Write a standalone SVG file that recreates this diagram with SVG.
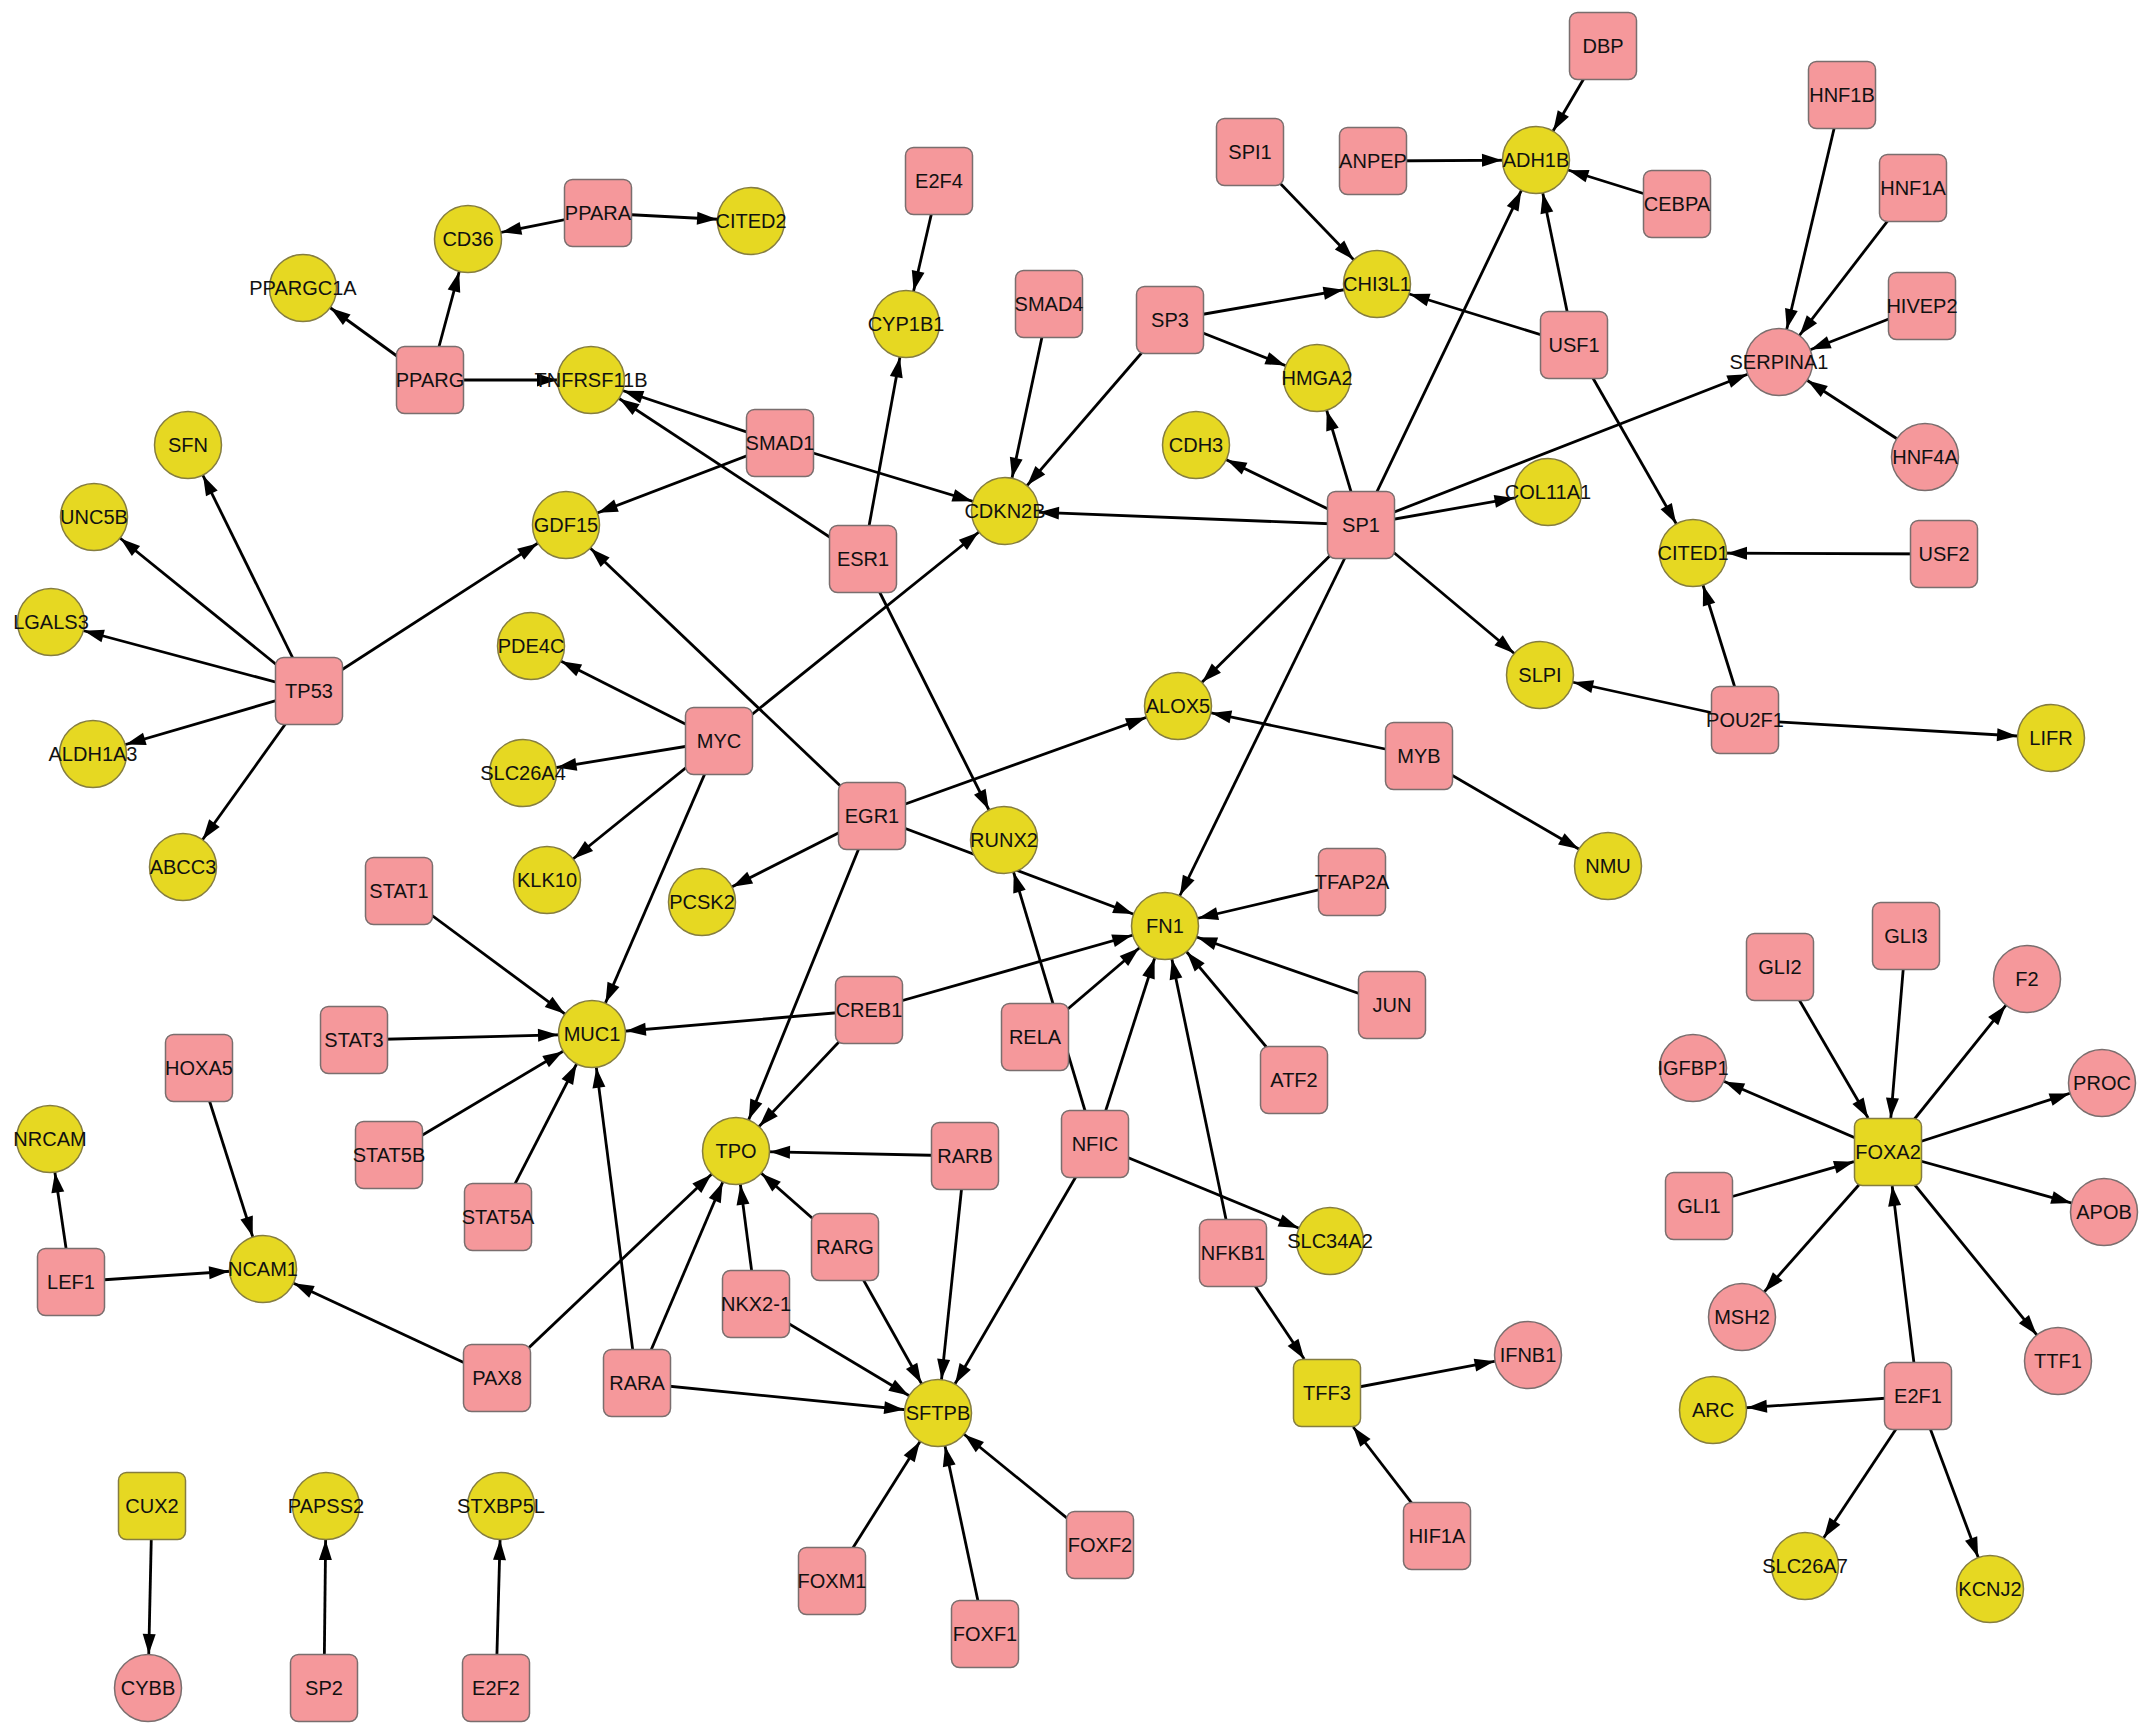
<svg xmlns="http://www.w3.org/2000/svg" width="2150" height="1736" viewBox="0 0 2150 1736">
<style>
.e{stroke:#000;stroke-width:2.8;fill:none;marker-end:url(#ac)}
.q{stroke:#000;stroke-width:2.8;fill:none;marker-end:url(#aq)}
.p{fill:#F5989B;stroke:#7a6e6e;stroke-width:1.5}
.y{fill:#E6D822;stroke:#857d40;stroke-width:1.5}
text{font-family:"Liberation Sans",Arial,sans-serif;font-size:20px;fill:#111;text-anchor:middle}
</style>
<defs>
<marker id="ac" viewBox="0 0 20 13" markerWidth="20" markerHeight="13" refX="54" refY="6.5" orient="auto" markerUnits="userSpaceOnUse" overflow="visible"><path d="M0,0 L20,6.5 L0,13 z" fill="#000"/></marker>
<marker id="aq" viewBox="0 0 20 13" markerWidth="20" markerHeight="13" refX="20" refY="6.5" orient="auto" markerUnits="userSpaceOnUse" overflow="visible"><path d="M0,0 L20,6.5 L0,13 z" fill="#000"/></marker>
</defs>
<rect width="2150" height="1736" fill="#fff"/>
<g id="edges">
<line class="e" x1="1603" y1="46" x2="1536" y2="160"/>
<line class="e" x1="1373" y1="161" x2="1536" y2="160"/>
<line class="e" x1="1677" y1="204" x2="1536" y2="160"/>
<line class="e" x1="1574" y1="345" x2="1536" y2="160"/>
<line class="e" x1="1361" y1="525" x2="1536" y2="160"/>
<line class="e" x1="1250" y1="152" x2="1377" y2="284"/>
<line class="e" x1="1170" y1="320" x2="1377" y2="284"/>
<line class="e" x1="1574" y1="345" x2="1377" y2="284"/>
<line class="e" x1="1170" y1="320" x2="1317" y2="378"/>
<line class="e" x1="1170" y1="320" x2="1005" y2="511"/>
<line class="e" x1="1574" y1="345" x2="1693" y2="553"/>
<line class="e" x1="1842" y1="95" x2="1779" y2="362"/>
<line class="e" x1="1913" y1="188" x2="1779" y2="362"/>
<line class="e" x1="1922" y1="306" x2="1779" y2="362"/>
<line class="e" x1="1925" y1="457" x2="1779" y2="362"/>
<line class="e" x1="1361" y1="525" x2="1779" y2="362"/>
<line class="e" x1="1944" y1="554" x2="1693" y2="553"/>
<line class="e" x1="1745" y1="720" x2="1693" y2="553"/>
<line class="e" x1="1745" y1="720" x2="1540" y2="675"/>
<line class="e" x1="1745" y1="720" x2="2051" y2="738"/>
<line class="e" x1="1361" y1="525" x2="1317" y2="378"/>
<line class="e" x1="1361" y1="525" x2="1196" y2="445"/>
<line class="e" x1="1361" y1="525" x2="1548" y2="492"/>
<line class="e" x1="1361" y1="525" x2="1005" y2="511"/>
<line class="e" x1="1361" y1="525" x2="1540" y2="675"/>
<line class="e" x1="1361" y1="525" x2="1178" y2="706"/>
<line class="e" x1="1361" y1="525" x2="1165" y2="926"/>
<line class="e" x1="1419" y1="756" x2="1178" y2="706"/>
<line class="e" x1="1419" y1="756" x2="1608" y2="866"/>
<line class="e" x1="939" y1="181" x2="906" y2="324"/>
<line class="e" x1="863" y1="559" x2="906" y2="324"/>
<line class="e" x1="1049" y1="304" x2="1005" y2="511"/>
<line class="e" x1="780" y1="443" x2="1005" y2="511"/>
<line class="e" x1="780" y1="443" x2="566" y2="525"/>
<line class="e" x1="780" y1="443" x2="591" y2="380"/>
<line class="e" x1="863" y1="559" x2="591" y2="380"/>
<line class="e" x1="863" y1="559" x2="1004" y2="840"/>
<line class="e" x1="598" y1="213" x2="468" y2="239"/>
<line class="e" x1="598" y1="213" x2="751" y2="221"/>
<line class="e" x1="430" y1="380" x2="468" y2="239"/>
<line class="e" x1="430" y1="380" x2="303" y2="288"/>
<line class="e" x1="430" y1="380" x2="591" y2="380"/>
<line class="e" x1="309" y1="691" x2="188" y2="445"/>
<line class="e" x1="309" y1="691" x2="94" y2="517"/>
<line class="e" x1="309" y1="691" x2="51" y2="622"/>
<line class="e" x1="309" y1="691" x2="93" y2="754"/>
<line class="e" x1="309" y1="691" x2="183" y2="867"/>
<line class="e" x1="309" y1="691" x2="566" y2="525"/>
<line class="e" x1="872" y1="816" x2="566" y2="525"/>
<line class="e" x1="719" y1="741" x2="531" y2="646"/>
<line class="e" x1="719" y1="741" x2="523" y2="773"/>
<line class="e" x1="719" y1="741" x2="547" y2="880"/>
<line class="e" x1="719" y1="741" x2="592" y2="1034"/>
<line class="e" x1="719" y1="741" x2="1005" y2="511"/>
<line class="e" x1="872" y1="816" x2="1178" y2="706"/>
<line class="e" x1="872" y1="816" x2="1165" y2="926"/>
<line class="e" x1="872" y1="816" x2="702" y2="902"/>
<line class="e" x1="872" y1="816" x2="736" y2="1151"/>
<line class="e" x1="1095" y1="1144" x2="1004" y2="840"/>
<line class="e" x1="1035" y1="1037" x2="1165" y2="926"/>
<line class="e" x1="869" y1="1010" x2="1165" y2="926"/>
<line class="e" x1="869" y1="1010" x2="592" y2="1034"/>
<line class="e" x1="869" y1="1010" x2="736" y2="1151"/>
<line class="e" x1="1352" y1="882" x2="1165" y2="926"/>
<line class="e" x1="1392" y1="1005" x2="1165" y2="926"/>
<line class="e" x1="1294" y1="1080" x2="1165" y2="926"/>
<line class="e" x1="1095" y1="1144" x2="1165" y2="926"/>
<line class="e" x1="1233" y1="1253" x2="1165" y2="926"/>
<line class="e" x1="1095" y1="1144" x2="1330" y2="1241"/>
<line class="e" x1="1095" y1="1144" x2="938" y2="1413"/>
<line class="e" x1="399" y1="891" x2="592" y2="1034"/>
<line class="e" x1="354" y1="1040" x2="592" y2="1034"/>
<line class="e" x1="389" y1="1155" x2="592" y2="1034"/>
<line class="e" x1="498" y1="1217" x2="592" y2="1034"/>
<line class="e" x1="637" y1="1383" x2="592" y2="1034"/>
<line class="e" x1="637" y1="1383" x2="736" y2="1151"/>
<line class="e" x1="637" y1="1383" x2="938" y2="1413"/>
<line class="e" x1="965" y1="1156" x2="736" y2="1151"/>
<line class="e" x1="965" y1="1156" x2="938" y2="1413"/>
<line class="e" x1="845" y1="1247" x2="736" y2="1151"/>
<line class="e" x1="845" y1="1247" x2="938" y2="1413"/>
<line class="e" x1="756" y1="1304" x2="736" y2="1151"/>
<line class="e" x1="756" y1="1304" x2="938" y2="1413"/>
<line class="e" x1="497" y1="1378" x2="736" y2="1151"/>
<line class="e" x1="497" y1="1378" x2="263" y2="1269"/>
<line class="e" x1="71" y1="1282" x2="263" y2="1269"/>
<line class="e" x1="71" y1="1282" x2="50" y2="1139"/>
<line class="e" x1="199" y1="1068" x2="263" y2="1269"/>
<line class="q" x1="1233" y1="1253" x2="1304.2" y2="1359"/>
<line class="e" x1="1327" y1="1393" x2="1528" y2="1355"/>
<line class="q" x1="1437" y1="1536" x2="1353.2" y2="1427"/>
<line class="e" x1="832" y1="1581" x2="938" y2="1413"/>
<line class="e" x1="985" y1="1634" x2="938" y2="1413"/>
<line class="e" x1="1100" y1="1545" x2="938" y2="1413"/>
<line class="e" x1="152" y1="1506" x2="148" y2="1688"/>
<line class="e" x1="324" y1="1688" x2="326" y2="1506"/>
<line class="e" x1="496" y1="1688" x2="501" y2="1506"/>
<line class="q" x1="1780" y1="967" x2="1868.1" y2="1118"/>
<line class="q" x1="1906" y1="936" x2="1890.8" y2="1118"/>
<line class="q" x1="1699" y1="1206" x2="1854" y2="1161.7"/>
<line class="q" x1="1918" y1="1396" x2="1892.2" y2="1186"/>
<line class="e" x1="1888" y1="1152" x2="2027" y2="979"/>
<line class="e" x1="1888" y1="1152" x2="2102" y2="1083"/>
<line class="e" x1="1888" y1="1152" x2="2104" y2="1212"/>
<line class="e" x1="1888" y1="1152" x2="2058" y2="1361"/>
<line class="e" x1="1888" y1="1152" x2="1742" y2="1317"/>
<line class="e" x1="1888" y1="1152" x2="1693" y2="1068"/>
<line class="e" x1="1918" y1="1396" x2="1713" y2="1410"/>
<line class="e" x1="1918" y1="1396" x2="1805" y2="1566"/>
<line class="e" x1="1918" y1="1396" x2="1990" y2="1589"/>
</g>
<g id="nodes">
<g id="n-DBP"><rect class="p" x="1569.5" y="12.5" width="67" height="67" rx="8"/><text x="1603" y="53">DBP</text></g>
<g id="n-ANPEP"><rect class="p" x="1339.5" y="127.5" width="67" height="67" rx="8"/><text x="1373" y="168">ANPEP</text></g>
<g id="n-CEBPA"><rect class="p" x="1643.5" y="170.5" width="67" height="67" rx="8"/><text x="1677" y="211">CEBPA</text></g>
<g id="n-SPI1"><rect class="p" x="1216.5" y="118.5" width="67" height="67" rx="8"/><text x="1250" y="159">SPI1</text></g>
<g id="n-SP3"><rect class="p" x="1136.5" y="286.5" width="67" height="67" rx="8"/><text x="1170" y="327">SP3</text></g>
<g id="n-USF1"><rect class="p" x="1540.5" y="311.5" width="67" height="67" rx="8"/><text x="1574" y="352">USF1</text></g>
<g id="n-HNF1B"><rect class="p" x="1808.5" y="61.5" width="67" height="67" rx="8"/><text x="1842" y="102">HNF1B</text></g>
<g id="n-HNF1A"><rect class="p" x="1879.5" y="154.5" width="67" height="67" rx="8"/><text x="1913" y="195">HNF1A</text></g>
<g id="n-HIVEP2"><rect class="p" x="1888.5" y="272.5" width="67" height="67" rx="8"/><text x="1922" y="313">HIVEP2</text></g>
<g id="n-USF2"><rect class="p" x="1910.5" y="520.5" width="67" height="67" rx="8"/><text x="1944" y="561">USF2</text></g>
<g id="n-SP1"><rect class="p" x="1327.5" y="491.5" width="67" height="67" rx="8"/><text x="1361" y="532">SP1</text></g>
<g id="n-POU2F1"><rect class="p" x="1711.5" y="686.5" width="67" height="67" rx="8"/><text x="1745" y="727">POU2F1</text></g>
<g id="n-MYB"><rect class="p" x="1385.5" y="722.5" width="67" height="67" rx="8"/><text x="1419" y="763">MYB</text></g>
<g id="n-E2F4"><rect class="p" x="905.5" y="147.5" width="67" height="67" rx="8"/><text x="939" y="188">E2F4</text></g>
<g id="n-SMAD4"><rect class="p" x="1015.5" y="270.5" width="67" height="67" rx="8"/><text x="1049" y="311">SMAD4</text></g>
<g id="n-SMAD1"><rect class="p" x="746.5" y="409.5" width="67" height="67" rx="8"/><text x="780" y="450">SMAD1</text></g>
<g id="n-ESR1"><rect class="p" x="829.5" y="525.5" width="67" height="67" rx="8"/><text x="863" y="566">ESR1</text></g>
<g id="n-PPARA"><rect class="p" x="564.5" y="179.5" width="67" height="67" rx="8"/><text x="598" y="220">PPARA</text></g>
<g id="n-PPARG"><rect class="p" x="396.5" y="346.5" width="67" height="67" rx="8"/><text x="430" y="387">PPARG</text></g>
<g id="n-TP53"><rect class="p" x="275.5" y="657.5" width="67" height="67" rx="8"/><text x="309" y="698">TP53</text></g>
<g id="n-MYC"><rect class="p" x="685.5" y="707.5" width="67" height="67" rx="8"/><text x="719" y="748">MYC</text></g>
<g id="n-EGR1"><rect class="p" x="838.5" y="782.5" width="67" height="67" rx="8"/><text x="872" y="823">EGR1</text></g>
<g id="n-TFAP2A"><rect class="p" x="1318.5" y="848.5" width="67" height="67" rx="8"/><text x="1352" y="889">TFAP2A</text></g>
<g id="n-JUN"><rect class="p" x="1358.5" y="971.5" width="67" height="67" rx="8"/><text x="1392" y="1012">JUN</text></g>
<g id="n-ATF2"><rect class="p" x="1260.5" y="1046.5" width="67" height="67" rx="8"/><text x="1294" y="1087">ATF2</text></g>
<g id="n-STAT1"><rect class="p" x="365.5" y="857.5" width="67" height="67" rx="8"/><text x="399" y="898">STAT1</text></g>
<g id="n-STAT3"><rect class="p" x="320.5" y="1006.5" width="67" height="67" rx="8"/><text x="354" y="1047">STAT3</text></g>
<g id="n-CREB1"><rect class="p" x="835.5" y="976.5" width="67" height="67" rx="8"/><text x="869" y="1017">CREB1</text></g>
<g id="n-RELA"><rect class="p" x="1001.5" y="1003.5" width="67" height="67" rx="8"/><text x="1035" y="1044">RELA</text></g>
<g id="n-STAT5B"><rect class="p" x="355.5" y="1121.5" width="67" height="67" rx="8"/><text x="389" y="1162">STAT5B</text></g>
<g id="n-STAT5A"><rect class="p" x="464.5" y="1183.5" width="67" height="67" rx="8"/><text x="498" y="1224">STAT5A</text></g>
<g id="n-HOXA5"><rect class="p" x="165.5" y="1034.5" width="67" height="67" rx="8"/><text x="199" y="1075">HOXA5</text></g>
<g id="n-RARB"><rect class="p" x="931.5" y="1122.5" width="67" height="67" rx="8"/><text x="965" y="1163">RARB</text></g>
<g id="n-NFIC"><rect class="p" x="1061.5" y="1110.5" width="67" height="67" rx="8"/><text x="1095" y="1151">NFIC</text></g>
<g id="n-NFKB1"><rect class="p" x="1199.5" y="1219.5" width="67" height="67" rx="8"/><text x="1233" y="1260">NFKB1</text></g>
<g id="n-RARG"><rect class="p" x="811.5" y="1213.5" width="67" height="67" rx="8"/><text x="845" y="1254">RARG</text></g>
<g id="n-NKX2-1"><rect class="p" x="722.5" y="1270.5" width="67" height="67" rx="8"/><text x="756" y="1311">NKX2-1</text></g>
<g id="n-LEF1"><rect class="p" x="37.5" y="1248.5" width="67" height="67" rx="8"/><text x="71" y="1289">LEF1</text></g>
<g id="n-PAX8"><rect class="p" x="463.5" y="1344.5" width="67" height="67" rx="8"/><text x="497" y="1385">PAX8</text></g>
<g id="n-RARA"><rect class="p" x="603.5" y="1349.5" width="67" height="67" rx="8"/><text x="637" y="1390">RARA</text></g>
<g id="n-HIF1A"><rect class="p" x="1403.5" y="1502.5" width="67" height="67" rx="8"/><text x="1437" y="1543">HIF1A</text></g>
<g id="n-FOXM1"><rect class="p" x="798.5" y="1547.5" width="67" height="67" rx="8"/><text x="832" y="1588">FOXM1</text></g>
<g id="n-FOXF2"><rect class="p" x="1066.5" y="1511.5" width="67" height="67" rx="8"/><text x="1100" y="1552">FOXF2</text></g>
<g id="n-FOXF1"><rect class="p" x="951.5" y="1600.5" width="67" height="67" rx="8"/><text x="985" y="1641">FOXF1</text></g>
<g id="n-SP2"><rect class="p" x="290.5" y="1654.5" width="67" height="67" rx="8"/><text x="324" y="1695">SP2</text></g>
<g id="n-E2F2"><rect class="p" x="462.5" y="1654.5" width="67" height="67" rx="8"/><text x="496" y="1695">E2F2</text></g>
<g id="n-GLI2"><rect class="p" x="1746.5" y="933.5" width="67" height="67" rx="8"/><text x="1780" y="974">GLI2</text></g>
<g id="n-GLI3"><rect class="p" x="1872.5" y="902.5" width="67" height="67" rx="8"/><text x="1906" y="943">GLI3</text></g>
<g id="n-GLI1"><rect class="p" x="1665.5" y="1172.5" width="67" height="67" rx="8"/><text x="1699" y="1213">GLI1</text></g>
<g id="n-E2F1"><rect class="p" x="1884.5" y="1362.5" width="67" height="67" rx="8"/><text x="1918" y="1403">E2F1</text></g>
<g id="n-TFF3"><rect class="y" x="1293.5" y="1359.5" width="67" height="67" rx="8"/><text x="1327" y="1400">TFF3</text></g>
<g id="n-CUX2"><rect class="y" x="118.5" y="1472.5" width="67" height="67" rx="8"/><text x="152" y="1513">CUX2</text></g>
<g id="n-FOXA2"><rect class="y" x="1854.5" y="1118.5" width="67" height="67" rx="8"/><text x="1888" y="1159">FOXA2</text></g>
<g id="n-ADH1B"><circle class="y" cx="1536" cy="160" r="33.5"/><text x="1536" y="167">ADH1B</text></g>
<g id="n-CHI3L1"><circle class="y" cx="1377" cy="284" r="33.5"/><text x="1377" y="291">CHI3L1</text></g>
<g id="n-HMGA2"><circle class="y" cx="1317" cy="378" r="33.5"/><text x="1317" y="385">HMGA2</text></g>
<g id="n-CITED1"><circle class="y" cx="1693" cy="553" r="33.5"/><text x="1693" y="560">CITED1</text></g>
<g id="n-CDH3"><circle class="y" cx="1196" cy="445" r="33.5"/><text x="1196" y="452">CDH3</text></g>
<g id="n-COL11A1"><circle class="y" cx="1548" cy="492" r="33.5"/><text x="1548" y="499">COL11A1</text></g>
<g id="n-SLPI"><circle class="y" cx="1540" cy="675" r="33.5"/><text x="1540" y="682">SLPI</text></g>
<g id="n-LIFR"><circle class="y" cx="2051" cy="738" r="33.5"/><text x="2051" y="745">LIFR</text></g>
<g id="n-ALOX5"><circle class="y" cx="1178" cy="706" r="33.5"/><text x="1178" y="713">ALOX5</text></g>
<g id="n-NMU"><circle class="y" cx="1608" cy="866" r="33.5"/><text x="1608" y="873">NMU</text></g>
<g id="n-CYP1B1"><circle class="y" cx="906" cy="324" r="33.5"/><text x="906" y="331">CYP1B1</text></g>
<g id="n-CDKN2B"><circle class="y" cx="1005" cy="511" r="33.5"/><text x="1005" y="518">CDKN2B</text></g>
<g id="n-TNFRSF11B"><circle class="y" cx="591" cy="380" r="33.5"/><text x="591" y="387">TNFRSF11B</text></g>
<g id="n-GDF15"><circle class="y" cx="566" cy="525" r="33.5"/><text x="566" y="532">GDF15</text></g>
<g id="n-CD36"><circle class="y" cx="468" cy="239" r="33.5"/><text x="468" y="246">CD36</text></g>
<g id="n-CITED2"><circle class="y" cx="751" cy="221" r="33.5"/><text x="751" y="228">CITED2</text></g>
<g id="n-PPARGC1A"><circle class="y" cx="303" cy="288" r="33.5"/><text x="303" y="295">PPARGC1A</text></g>
<g id="n-SFN"><circle class="y" cx="188" cy="445" r="33.5"/><text x="188" y="452">SFN</text></g>
<g id="n-UNC5B"><circle class="y" cx="94" cy="517" r="33.5"/><text x="94" y="524">UNC5B</text></g>
<g id="n-LGALS3"><circle class="y" cx="51" cy="622" r="33.5"/><text x="51" y="629">LGALS3</text></g>
<g id="n-ALDH1A3"><circle class="y" cx="93" cy="754" r="33.5"/><text x="93" y="761">ALDH1A3</text></g>
<g id="n-ABCC3"><circle class="y" cx="183" cy="867" r="33.5"/><text x="183" y="874">ABCC3</text></g>
<g id="n-PDE4C"><circle class="y" cx="531" cy="646" r="33.5"/><text x="531" y="653">PDE4C</text></g>
<g id="n-SLC26A4"><circle class="y" cx="523" cy="773" r="33.5"/><text x="523" y="780">SLC26A4</text></g>
<g id="n-KLK10"><circle class="y" cx="547" cy="880" r="33.5"/><text x="547" y="887">KLK10</text></g>
<g id="n-RUNX2"><circle class="y" cx="1004" cy="840" r="33.5"/><text x="1004" y="847">RUNX2</text></g>
<g id="n-PCSK2"><circle class="y" cx="702" cy="902" r="33.5"/><text x="702" y="909">PCSK2</text></g>
<g id="n-FN1"><circle class="y" cx="1165" cy="926" r="33.5"/><text x="1165" y="933">FN1</text></g>
<g id="n-MUC1"><circle class="y" cx="592" cy="1034" r="33.5"/><text x="592" y="1041">MUC1</text></g>
<g id="n-NRCAM"><circle class="y" cx="50" cy="1139" r="33.5"/><text x="50" y="1146">NRCAM</text></g>
<g id="n-TPO"><circle class="y" cx="736" cy="1151" r="33.5"/><text x="736" y="1158">TPO</text></g>
<g id="n-SLC34A2"><circle class="y" cx="1330" cy="1241" r="33.5"/><text x="1330" y="1248">SLC34A2</text></g>
<g id="n-NCAM1"><circle class="y" cx="263" cy="1269" r="33.5"/><text x="263" y="1276">NCAM1</text></g>
<g id="n-SFTPB"><circle class="y" cx="938" cy="1413" r="33.5"/><text x="938" y="1420">SFTPB</text></g>
<g id="n-PAPSS2"><circle class="y" cx="326" cy="1506" r="33.5"/><text x="326" y="1513">PAPSS2</text></g>
<g id="n-STXBP5L"><circle class="y" cx="501" cy="1506" r="33.5"/><text x="501" y="1513">STXBP5L</text></g>
<g id="n-ARC"><circle class="y" cx="1713" cy="1410" r="33.5"/><text x="1713" y="1417">ARC</text></g>
<g id="n-SLC26A7"><circle class="y" cx="1805" cy="1566" r="33.5"/><text x="1805" y="1573">SLC26A7</text></g>
<g id="n-KCNJ2"><circle class="y" cx="1990" cy="1589" r="33.5"/><text x="1990" y="1596">KCNJ2</text></g>
<g id="n-SERPINA1"><circle class="p" cx="1779" cy="362" r="33.5"/><text x="1779" y="369">SERPINA1</text></g>
<g id="n-HNF4A"><circle class="p" cx="1925" cy="457" r="33.5"/><text x="1925" y="464">HNF4A</text></g>
<g id="n-IFNB1"><circle class="p" cx="1528" cy="1355" r="33.5"/><text x="1528" y="1362">IFNB1</text></g>
<g id="n-CYBB"><circle class="p" cx="148" cy="1688" r="33.5"/><text x="148" y="1695">CYBB</text></g>
<g id="n-F2"><circle class="p" cx="2027" cy="979" r="33.5"/><text x="2027" y="986">F2</text></g>
<g id="n-IGFBP1"><circle class="p" cx="1693" cy="1068" r="33.5"/><text x="1693" y="1075">IGFBP1</text></g>
<g id="n-PROC"><circle class="p" cx="2102" cy="1083" r="33.5"/><text x="2102" y="1090">PROC</text></g>
<g id="n-APOB"><circle class="p" cx="2104" cy="1212" r="33.5"/><text x="2104" y="1219">APOB</text></g>
<g id="n-MSH2"><circle class="p" cx="1742" cy="1317" r="33.5"/><text x="1742" y="1324">MSH2</text></g>
<g id="n-TTF1"><circle class="p" cx="2058" cy="1361" r="33.5"/><text x="2058" y="1368">TTF1</text></g>
</g>
</svg>
